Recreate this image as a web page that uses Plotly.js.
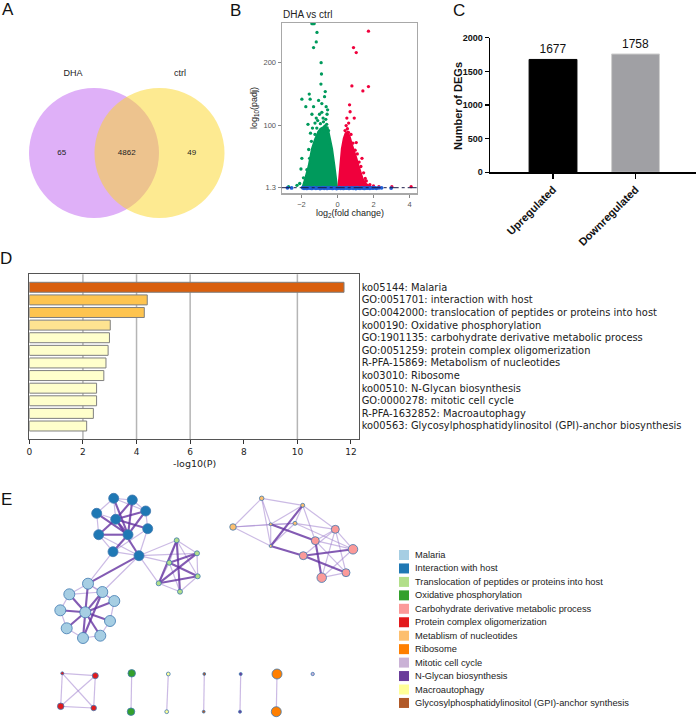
<!DOCTYPE html>
<html><head><meta charset="utf-8">
<script src="https://cdn.plot.ly/plotly-3.0.1.min.js"></script>
<style>html,body{margin:0;padding:0;background:#fff}#chart{width:696px;height:718px}</style>
</head><body><div id="chart"></div>
<script>
// ---------------- DATA ----------------
// A: Venn
const vennSets = ['DHA', 'ctrl'];
const vennCounts = [65, 4862, 49]; // DHA only, shared, ctrl only

// B: volcano (log2 fold change, -log10 padj)
const greenX = [-1.42,-1.36,-1.3,-1.14,-1.18,-1.33,-0.91,-0.89,-0.92,-1.57,-0.68,-0.72,-1.98,-1.52,-1.05,-1.76,-1.33,-0.87,-0.63,-1.42,-0.87,-0.58,-1.18,-1.64,-0.78,-1.39,-1.02,-1.98,-2.03,-1.89,-1.74,-2.72,-1.6,-1.45,-1.25,-0.6,-0.7,-1.15,-0.95,-1.7,-1.55,-0.45,-0.5,-1.1,-0.8,-2.1,-0.65,-1.5,-0.55,-1.0,-1.25,-0.75,-2.25];
const greenY = [262,262,262,248,233,224,200,182,166,150,154,146,142,142,140,130,130,135,130,118,121,118,112,102,106,96,90,48,31,17,13.5,3,62,75,86,102,99,96,103,30,48,72,92,108,112,8,110,88,125,118,104,92,5];
const greenCoreX = [-0.02,-0.07,-0.17,-0.3,-0.42,-0.49,-0.55,-0.75,-0.95,-1.07,-1.25,-1.42,-1.6,-1.8,-1.9,-1.95];
const greenCoreY = [1.3,15,36,63,80,90,97,98,95,90,78,63,36,15,5,1.3];
const redX = [1.72,0.89,1.04,0.8,1.72,1.41,0.67,0.7,0.93,0.52,0.61,1.04,0.98,1.36,1.3,1.54,3.02,4.09,1.8,2.3,0.55,0.75,0.85,1.1,1.2,0.42,0.48,1.45,1.6,2.0,0.62];
const redY = [250,224,216,163,162,155,133,122,112,112,89,73,61,48,35,16,3,3,6,3,95,86,72,55,42,92,100,25,12,4,104];
const redCoreX = [0.05,0.1,0.15,0.24,0.35,0.45,0.55,0.68,0.8,0.89,1.05,1.17,1.3,1.4,1.6,1.9];
const redCoreY = [1.3,15,36,63,80,88,90,82,70,63,48,36,24,15,7,1.3];
const blueX = [-2.78,-2.55,-1.93,-1.86,-1.8,-1.71,-1.66,-1.58,-1.5,-1.43,-1.35,-1.27,-1.2,-1.12,-1.04,-0.97,-0.9,-0.81,-0.74,-0.66,-0.58,-0.51,-0.43,-0.36,-0.28,-0.2,-0.13,-0.05,0.03,0.11,0.18,0.26,0.33,0.41,0.49,0.56,0.64,0.72,0.79,0.87,0.95,1.02,1.1,1.18,1.25,1.33,1.41,1.49,1.57,1.64,1.72,1.8,1.88,1.97,2.05,2.16,2.3,2.45,2.98];
const blueY = [1.1,0.9,1.2,0.4,1.0,0.2,0.8,1.25,0.5,0.1,0.9,1.2,0.3,0.7,1.1,0.0,0.6,1.2,0.4,0.9,0.1,1.0,0.5,1.25,0.2,0.8,1.1,0.0,0.6,1.2,0.3,0.9,0.1,1.0,0.5,1.2,0.2,0.7,1.1,0.4,0.9,0.0,1.2,0.6,0.3,1.0,0.8,0.2,1.15,0.5,0.9,0.3,1.0,0.6,1.2,0.4,0.9,1.1,0.7];
const padjCut = 1.3;
const volcanoTicksY = [1.3, 100, 200];
const volcanoTicksX = [-2, 0, 2, 4];

// C: DEG counts
const degCategories = ['Upregulated', 'Downregulated'];
const degCounts = [1677, 1758];

// D: enrichment
const termLabels = [
  'ko05144: Malaria',
  'GO:0051701: interaction with host',
  'GO:0042000: translocation of peptides or proteins into host',
  'ko00190: Oxidative phosphorylation',
  'GO:1901135: carbohydrate derivative metabolic process',
  'GO:0051259: protein complex oligomerization',
  'R-PFA-15869: Metabolism of nucleotides',
  'ko03010: Ribosome',
  'ko00510: N-Glycan biosynthesis',
  'GO:0000278: mitotic cell cycle',
  'R-PFA-1632852: Macroautophagy',
  'ko00563: Glycosylphosphatidylinositol (GPI)-anchor biosynthesis'
];
const termLogP = [11.74, 4.40, 4.29, 3.02, 2.99, 2.94, 2.86, 2.78, 2.51, 2.51, 2.39, 2.14];

// E: network
const clusterNames = ['Malaria','Interaction with host','Translocation of peptides or proteins into host','Oxidative phosphorylation','Carbohydrate derivative metabolic process','Protein complex oligomerization','Metablism of nucleotides','Ribosome','Mitotic cell cycle','N-Glycan biosynthesis','Macroautophagy','Glycosylphosphatidylinositol (GPI)-anchor synthesis'];
const nodeX = [113.7,132.3,96.7,145.7,115.7,147.7,98.7,128,113,139, 88,69.3,102.3,114.3,60.3,85.3,110,66.7,83,100.3, 176.7,197,169.3,197.7,158.7,180, 261.7,302.7,233,270.7,295,270.7, 335.3,315.3,353,303.3,346,321.7, 62.3,95.3,60.7,93.7, 131.7,131, 168.3,166.7, 204.3,203.7, 240.7,240, 277,276.3, 312.7];
const nodeY = [498.3,500,513.3,511,519.3,528.7,534.7,534.7,551.7,555.7, 583.7,594.3,592,601,610.3,612.3,621,628.3,638,635.7, 540.3,553.3,562.7,576.3,583.3,591.7, 498.3,505.3,527,524.3,523.3,546, 529.3,540.7,549.3,555.7,572.7,577.7, 673.3,675.7,706.3,708, 673.3,711.7, 674,711.7, 674,711.7, 674,711.7, 674,711.7, 674];
const nodeCluster = [1,1,1,1,1,1,1,1,1,1, 0,0,0,0,0,0,0,0,0,0, 2,2,2,2,2,2, 6,6,6,6,6,6, 4,4,4,4,4,4, 5,5,5,5, 3,3, 10,10, 11,11, 9,9, 7,7, 8];
const nodeTerms = [10,10,10,10,10,10,10,10,10,10, 11,11,11,11,11,11,11,11,11,11, 5,5,5,5,5,5, 4.5,4,6.5,3,4,3, 8,8,9.5,8,8,9.5, 3,6,6.5,5.5, 7.5,7.5, 3.8,3.8, 2.8,2.8, 3,3, 10,10, 3.3];
const edgeA = [4,4,4,4,4,7,7,7,7,7,4,7, 0,1,3,5,9,8,6,2,0,2,0,6,8, 9,9,8,9,9,9,9, 15,15,15,15,15,15,15,15,15,12, 10,12,13,16,19,18,17,14,11,10,11, 20,20,21,21,22,23, 20,21,23,25,24,22,20,22, 28,28,28,28,26,26,26,27,27,29,29,30,27,27,30,30,32,32,32,32,33,33,36,34,32, 29,27,31,34,35,33, 38,38,38,39,39,40, 42,44,46,48,50];
const edgeB = [1,3,5,9,7,0,2,6,8,3,6,1, 1,3,5,9,8,6,2,0,3,4,4,9,5, 10,12,10,22,24,20,21, 11,14,17,18,19,16,13,12,10,18, 12,13,16,19,18,17,14,11,10,13,12, 25,24,24,22,23,24, 21,23,25,24,22,20,23,25, 26,29,31,30,29,31,27,29,30,30,31,31,32,33,32,34,33,34,35,36,34,36,37,37,37, 33,31,35,35,36,37, 39,40,41,40,41,41, 43,45,47,49,51];
const edgeW = [2,2,2,2,2,2,2,2,2,2,2,2, 1,1,1,1,1,1,1,1,1,1,1,1,1, 2,1,1,1,1,1,1, 2,2,2,2,2,2,2,2,2,2, 1,1,1,1,1,1,1,1,1,1,1, 2,2,2,2,2,2, 1,1,1,1,1,1,1,1, 1,1,1,1,1,1,1,1,1,1,1,1,1,1,1,1,1,1,1,1,1,1,1,1,1, 2,2,2,2,2,2, 1,1,1,1,1,1, 1,1,1,1,1];

// ---------------- STYLE / LAYOUT ----------------
const W = 696, H = 718;
const fx = v => v / W, fy = v => 1 - v / H;
const ARIAL = 'Liberation Sans, Arial, sans-serif';
const DEJAVU = 'DejaVu Sans, sans-serif';
const clusterColors = ['#a6cee3','#1f78b4','#b2df8a','#33a02c','#fb9a99','#e31a1c','#fdbf6f','#ff7f00','#cab2d6','#6a3d9a','#ffff99','#b15928'];
const termColors = ['#d95f0e','#fec44f','#fec44f','#fee391','#ffffcc','#ffffcc','#ffffcc','#ffffcc','#ffffcc','#ffffcc','#ffffcc','#ffffcc'];

const traces = [];
const shapes = [];
const annotations = [];

// ---- A Venn (axis x/y in pixel units)
const vR = 65, vC = [94, 159.5], vCy = 153;
shapes.push({type:'circle', xref:'x', yref:'y', x0:vC[0]-vR, x1:vC[0]+vR, y0:vCy-vR, y1:vCy+vR, fillcolor:'rgb(223,176,248)', line:{width:0}, layer:'below'});
shapes.push({type:'circle', xref:'x', yref:'y', x0:vC[1]-vR, x1:vC[1]+vR, y0:vCy-vR, y1:vCy+vR, fillcolor:'rgb(251,213,35)', opacity:0.5, line:{width:0}, layer:'below'});
traces.push({type:'scatter', mode:'text', xaxis:'x', yaxis:'y',
  x:[(vC[0]-vR + vC[1]-vR)/2, (vC[0]+vC[1])/2, (vC[0]+vR + vC[1]+vR)/2], y:[vCy,vCy,vCy],
  text: vennCounts.map(String), textfont:{family:ARIAL, size:8, color:'#222'}, hoverinfo:'none'});
traces.push({type:'scatter', mode:'text', xaxis:'x', yaxis:'y',
  x:[73, 180], y:[74, 74], text: vennSets, textfont:{family:ARIAL, size:9, color:'#222'}, hoverinfo:'none'});

// ---- B volcano
const cGreen = '#009a5c', cRed = '#f0003c', cBlue = '#1f5fd6';
traces.push({type:'scatter', mode:'lines', xaxis:'x2', yaxis:'y2', x:greenCoreX, y:greenCoreY, fill:'toself', fillcolor:cGreen, line:{color:cGreen, width:2}, hoverinfo:'none'});
traces.push({type:'scatter', mode:'lines', xaxis:'x2', yaxis:'y2', x:redCoreX, y:redCoreY, fill:'toself', fillcolor:cRed, line:{color:cRed, width:2}, hoverinfo:'none'});
traces.push({type:'scatter', mode:'markers', xaxis:'x2', yaxis:'y2', x:greenX, y:greenY, marker:{color:cGreen, size:3.3, opacity:1}, hoverinfo:'none'});
traces.push({type:'scatter', mode:'markers', xaxis:'x2', yaxis:'y2', x:redX, y:redY, marker:{color:cRed, size:3.3, opacity:1}, hoverinfo:'none'});
traces.push({type:'scatter', mode:'markers', xaxis:'x2', yaxis:'y2', x:blueX, y:blueY, marker:{color:cBlue, size:3.8, opacity:1}, hoverinfo:'none'});
shapes.push({type:'line', xref:'x2 domain', yref:'y2', x0:0, x1:1, y0:padjCut, y1:padjCut, line:{color:'#1c1c4a', width:1, dash:'dashdot'}});

// ---- C bars
traces.push({type:'bar', xaxis:'x3', yaxis:'y3', x:degCategories, y:degCounts, width:0.58,
  marker:{color:['#000000','#a0a0a4'], line:{color:['#000000','#cfcfcf'], width:1}},
  text: degCounts.map(String), textposition:'outside', cliponaxis:false,
  textfont:{family:ARIAL, size:12, color:'#111'}, hoverinfo:'none'});

// ---- D enrichment
traces.push({type:'bar', orientation:'h', xaxis:'x4', yaxis:'y4', y:termLabels, x:termLogP, width:0.79,
  marker:{color:termColors, line:{color:'#7f7f7f', width:1}}, hoverinfo:'none'});
[2,4,6,10].forEach(v => shapes.push({type:'line', xref:'x4', yref:'y4 domain', x0:v, x1:v, y0:0, y1:1, line:{color:'#b5b5b5', width:1.5}, layer:'below'}));

// ---- E network
const thinX=[], thinY=[], thickX=[], thickY=[];
edgeA.forEach((a,i) => {
  const b = edgeB[i];
  const tx = edgeW[i] === 2 ? thickX : thinX, ty = edgeW[i] === 2 ? thickY : thinY;
  tx.push(nodeX[a], nodeX[b], null); ty.push(nodeY[a], nodeY[b], null);
});
traces.push({type:'scatter', mode:'lines', xaxis:'x5', yaxis:'y5', x:thinX, y:thinY, line:{color:'rgba(160,130,205,0.55)', width:1.2}, hoverinfo:'none'});
traces.push({type:'scatter', mode:'lines', xaxis:'x5', yaxis:'y5', x:thickX, y:thickY, line:{color:'rgba(100,50,160,0.8)', width:2.1}, hoverinfo:'none'});
traces.push({type:'scatter', mode:'markers', xaxis:'x5', yaxis:'y5', x:nodeX, y:nodeY,
  marker:{color:nodeCluster.map(c => clusterColors[c]), size:nodeTerms, opacity:1, line:{color:'#3f78b0', width:0.8}}, hoverinfo:'none'});
// legend swatches
const legY = clusterNames.map((_, i) => 555 + i * 13.45);
traces.push({type:'scatter', mode:'markers', xaxis:'x5', yaxis:'y5', x:clusterNames.map(() => 404), y:legY,
  marker:{symbol:'square', size:10, color:clusterColors, opacity:1, line:{width:0}}, hoverinfo:'none'});
clusterNames.forEach((n, i) => annotations.push({xref:'x5', yref:'y5', x:413, y:legY[i], xanchor:'left', yanchor:'middle', text:n, showarrow:false, font:{family:ARIAL, size:9.3, color:'#222'}}));

// ---- titles / panel letters
const panel = (t, x, y) => annotations.push({xref:'paper', yref:'paper', x:fx(x), y:fy(y), text:t, showarrow:false, xanchor:'center', yanchor:'middle', font:{family:ARIAL, size:17, color:'#111'}});
panel('A', 8, 9); panel('B', 236, 10); panel('C', 459, 10); panel('D', 6, 258); panel('E', 6, 499);
annotations.push({xref:'paper', yref:'paper', x:fx(281), y:fy(14), xanchor:'left', yanchor:'middle', text:'DHA vs ctrl', showarrow:false, font:{family:ARIAL, size:10, color:'#222'}});
annotations.push({xref:'paper', yref:'paper', x:fx(255), y:fy(108), textangle:-90, xanchor:'center', yanchor:'middle', text:'log<sub>10</sub>(padj)', showarrow:false, font:{family:ARIAL, size:9, color:'#222'}});
annotations.push({xref:'paper', yref:'paper', x:fx(350), y:fy(214), xanchor:'center', yanchor:'middle', text:'log<sub>2</sub>(fold change)', showarrow:false, font:{family:ARIAL, size:9, color:'#222'}});
annotations.push({xref:'paper', yref:'paper', x:fx(458), y:fy(106), textangle:-90, xanchor:'center', yanchor:'middle', text:'Number of DEGs', showarrow:false, font:{family:ARIAL, size:11, color:'#111', weight:'bold'}});
annotations.push({xref:'paper', yref:'paper', x:fx(194), y:fy(463), xanchor:'center', yanchor:'middle', text:'-log10(P)', showarrow:false, font:{family:DEJAVU, size:9.5, color:'#222'}});

const hidden = {visible:false, showgrid:false, zeroline:false, fixedrange:true};
const layout = {
  width:W, height:H, margin:{l:0,r:0,t:0,b:0}, paper_bgcolor:'#fff', plot_bgcolor:'rgba(0,0,0,0)', showlegend:false,
  xaxis: Object.assign({}, hidden, {domain:[0, fx(230)], range:[0,230]}),
  yaxis: Object.assign({}, hidden, {domain:[fy(230), fy(40)], range:[230,40]}),
  xaxis2: {domain:[fx(281.7), fx(416.7)], range:[-3.1,4.4], tickvals:volcanoTicksX, ticktext:volcanoTicksX.map(v => v < 0 ? '\u2212' + Math.abs(v) : String(v)),
    showline:true, mirror:true, linecolor:'#a8a8a8', linewidth:1.2, ticks:'outside', ticklen:3, tickcolor:'#888',
    tickfont:{family:ARIAL, size:7.5, color:'#555'}, showgrid:false, zeroline:false, anchor:'y2'},
  yaxis2: {domain:[fy(193.3), fy(23)], range:[-7.6,263], tickvals:volcanoTicksY, ticktext:volcanoTicksY.map(String),
    showline:true, mirror:true, linecolor:'#a8a8a8', linewidth:1.2, ticks:'outside', ticklen:3, tickcolor:'#888',
    tickfont:{family:ARIAL, size:7.5, color:'#555'}, showgrid:false, zeroline:false, anchor:'x2'},
  xaxis3: {domain:[fx(490), 1], range:[-0.764,1.733], showline:true, linecolor:'#000', linewidth:1.5, ticks:'outside', ticklen:5, tickwidth:1.5, tickcolor:'#000',
    tickangle:-45, tickfont:{family:ARIAL, size:11, color:'#111', weight:'bold'}, showgrid:false, zeroline:false, anchor:'y3'},
  yaxis3: {domain:[fy(172.3), fy(37.7)], range:[0,2000], dtick:500, showline:true, linecolor:'#000', linewidth:1.5, ticks:'outside', ticklen:4, tickwidth:1.5, tickcolor:'#000',
    tickfont:{family:ARIAL, size:9, color:'#111', weight:'bold'}, showgrid:false, zeroline:false, anchor:'x3'},
  xaxis4: {domain:[fx(29.3), fx(358.5)], range:[0,12.28], tick0:0, dtick:2, showline:true, mirror:true, linecolor:'#555', linewidth:1.2,
    ticks:'outside', ticklen:4, tickcolor:'#333', tickfont:{family:DEJAVU, size:9, color:'#222'}, showgrid:false, zeroline:false, anchor:'y4'},
  yaxis4: {domain:[fy(439), fy(274.3)], type:'category', range:[12.03,-1.03], side:'right', showline:true, mirror:true, linecolor:'#555', linewidth:1.2,
    ticks:'', tickfont:{family:DEJAVU, size:9.9, color:'#222'}, showgrid:false, zeroline:false, anchor:'x4'},
  xaxis5: Object.assign({}, hidden, {domain:[0,1], range:[0,696], anchor:'y5'}),
  yaxis5: Object.assign({}, hidden, {domain:[0, fy(470)], range:[718,470], anchor:'x5'}),
  shapes, annotations
};
Plotly.newPlot('chart', traces, layout, {staticPlot:true, displayModeBar:false});
</script></body></html>
